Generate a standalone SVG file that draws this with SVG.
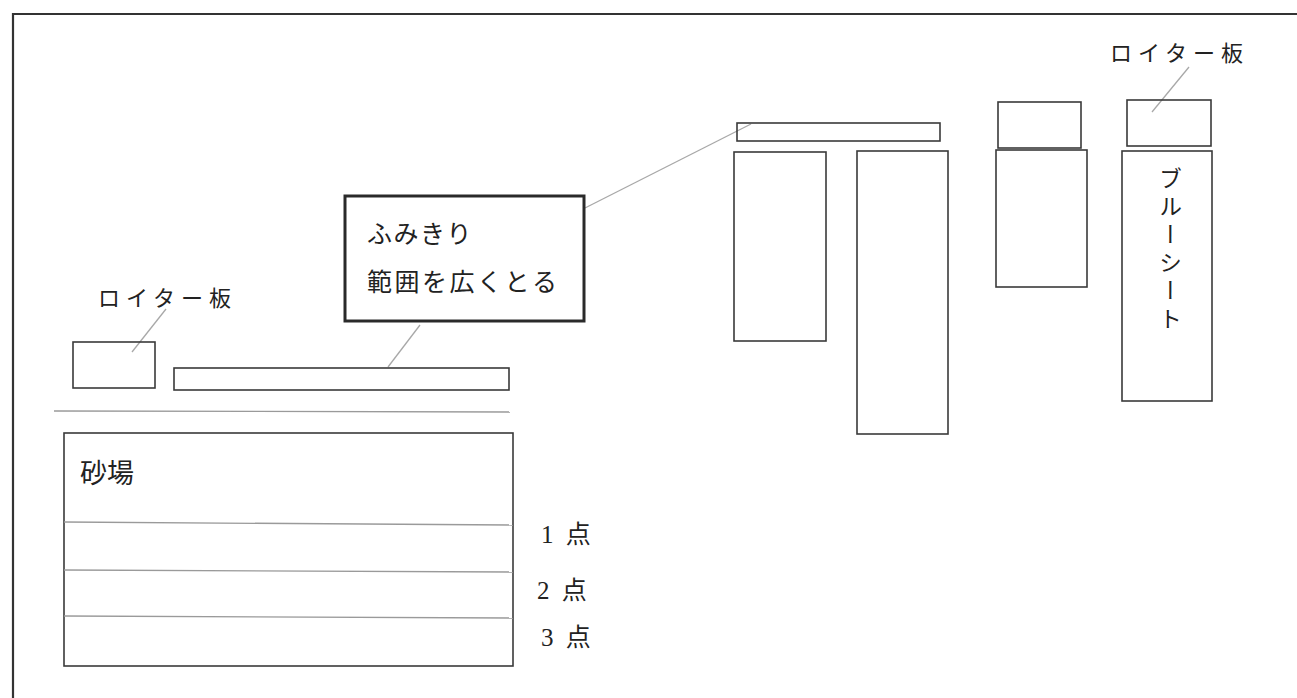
<svg xmlns="http://www.w3.org/2000/svg" width="1297" height="698" viewBox="0 0 1297 698">
<style>
.box{fill:none;stroke:#3a3a3a;stroke-width:1.6}
.thick{fill:none;stroke:#2a2a2a;stroke-width:3}
.lead{fill:none;stroke:#a8a8a8;stroke-width:1.3}
.thin{fill:none;stroke:#9a9a9a;stroke-width:1.3}
.t{font-family:"Liberation Serif","Noto Sans CJK JP",serif;fill:#222}
.pt{font-size:25px;letter-spacing:3px}
</style>
<rect width="1297" height="698" fill="#fff"/>
<g id="frame"><path d="M13 698 V14 H1297" fill="none" stroke="#333" stroke-width="2.2"/></g>
<g id="connectors">
<line class="lead" x1="166" y1="309" x2="132" y2="352"/>
<line class="lead" x1="420" y1="325" x2="388" y2="367"/>
<line class="lead" x1="585" y1="208" x2="751" y2="124"/>
<line class="lead" x1="1189" y1="67" x2="1152" y2="112"/>
<line class="thin" x1="54" y1="411" x2="510" y2="412"/>
</g>
<g id="loiter-left">
<rect class="box" x="73" y="342" width="82" height="46"/>
<text class="t" x="98" y="306" font-size="22" letter-spacing="6">ロイター板</text>
</g>
<g id="runway"><rect class="box" x="174" y="368" width="335" height="22"/></g>
<g id="note">
<rect class="thick" x="345" y="196" width="239" height="125"/>
<text class="t" x="367" y="243" font-size="25" letter-spacing="1.5">ふみきり</text>
<text class="t" x="367" y="291" font-size="25" letter-spacing="2.5">範囲を広くとる</text>
</g>
<g id="top-bar"><rect class="box" x="737" y="123" width="203" height="18"/></g>
<g id="rect-a"><rect class="box" x="734" y="152" width="92" height="189"/></g>
<g id="rect-b"><rect class="box" x="857" y="151" width="91" height="283"/></g>
<g id="loiter-c"><rect class="box" x="998" y="102" width="83" height="46"/></g>
<g id="rect-c"><rect class="box" x="996" y="150" width="91" height="137"/></g>
<g id="loiter-d">
<rect class="box" x="1127" y="100" width="84" height="46"/>
<text class="t" x="1110" y="61" font-size="22" letter-spacing="6">ロイター板</text>
</g>
<g id="blue-sheet">
<rect class="box" x="1122" y="151" width="90" height="250"/>
<text class="t" x="1168" y="167" font-size="23" letter-spacing="5" writing-mode="vertical-rl">ブルーシート</text>
</g>
<g id="sandpit">
<rect class="box" x="64" y="433" width="449" height="233"/>
<text class="t" x="80" y="483" font-size="27">砂場</text>
<line class="thin" x1="64" y1="522" x2="513" y2="525"/>
<line class="thin" x1="64" y1="570" x2="513" y2="572"/>
<line class="thin" x1="64" y1="616" x2="513" y2="618"/>
<text class="t pt" x="541" y="543">1 点</text>
<text class="t pt" x="537" y="599">2 点</text>
<text class="t pt" x="541" y="646">3 点</text>
</g>
</svg>
